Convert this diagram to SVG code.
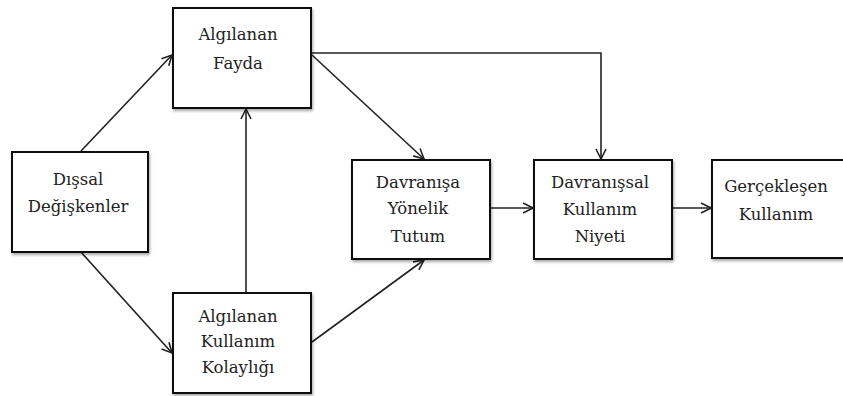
<svg xmlns="http://www.w3.org/2000/svg" width="843" height="396" viewBox="0 0 843 396">
<defs>
<marker id="arr" viewBox="0 0 12 12" refX="11" refY="6" markerWidth="12" markerHeight="12" markerUnits="userSpaceOnUse" orient="auto">
<path d="M1,1 L11,6 L1,11" fill="none" stroke="#222" stroke-width="1.6"/>
</marker>
<filter id="sh" x="-10%" y="-10%" width="130%" height="130%">
<feGaussianBlur in="SourceAlpha" stdDeviation="1.5"/>
<feOffset dx="1" dy="2" result="b"/>
<feComponentTransfer><feFuncA type="linear" slope="0.35"/></feComponentTransfer>
<feMerge><feMergeNode/><feMergeNode in="SourceGraphic"/></feMerge>
</filter>
</defs>
<style>
.box{fill:#fff;stroke:#111;stroke-width:2;filter:url(#sh)}
.t{font-family:'DejaVu Serif','Liberation Serif',serif;font-size:16.5px;fill:#222;text-anchor:middle}
.c{fill:none;stroke:#222;stroke-width:1.6;marker-end:url(#arr)}
</style>
<rect width="843" height="396" fill="#fff"/>
<g id="connectors">
<line class="c" x1="81" y1="151" x2="172" y2="55"/>
<line class="c" x1="80" y1="251" x2="172" y2="353"/>
<line class="c" x1="246" y1="293" x2="246" y2="109"/>
<line class="c" x1="312" y1="55" x2="424" y2="159"/>
<line class="c" x1="312" y1="342" x2="424" y2="260"/>
<polyline class="c" points="311,53 601,53 601,159"/>
<line class="c" x1="490" y1="208" x2="533" y2="208"/>
<line class="c" x1="672" y1="208" x2="711" y2="208"/>
</g>
<g id="disal">
<rect class="box" x="12" y="152" width="136" height="100"/>
<text class="t" x="78" y="185">Dışsal</text>
<text class="t" x="78" y="212">Değişkenler</text>
</g>
<g id="fayda">
<rect class="box" x="173" y="8" width="138" height="100"/>
<text class="t" x="238" y="40">Algılanan</text>
<text class="t" x="238" y="69">Fayda</text>
</g>
<g id="kolaylik">
<rect class="box" x="173" y="293" width="138" height="100"/>
<text class="t" x="238" y="322">Algılanan</text>
<text class="t" x="238" y="347">Kullanım</text>
<text class="t" x="238" y="373">Kolaylığı</text>
</g>
<g id="tutum">
<rect class="box" x="352" y="160" width="138" height="99"/>
<text class="t" x="418" y="188">Davranışa</text>
<text class="t" x="418" y="214">Yönelik</text>
<text class="t" x="418" y="242">Tutum</text>
</g>
<g id="niyet">
<rect class="box" x="534" y="160" width="138" height="99"/>
<text class="t" x="600" y="188">Davranışsal</text>
<text class="t" x="600" y="215">Kullanım</text>
<text class="t" x="600" y="242">Niyeti</text>
</g>
<g id="gercek">
<rect class="box" x="712" y="160" width="138" height="98"/>
<text class="t" x="776" y="192">Gerçekleşen</text>
<text class="t" x="776" y="220">Kullanım</text>
</g>
</svg>
